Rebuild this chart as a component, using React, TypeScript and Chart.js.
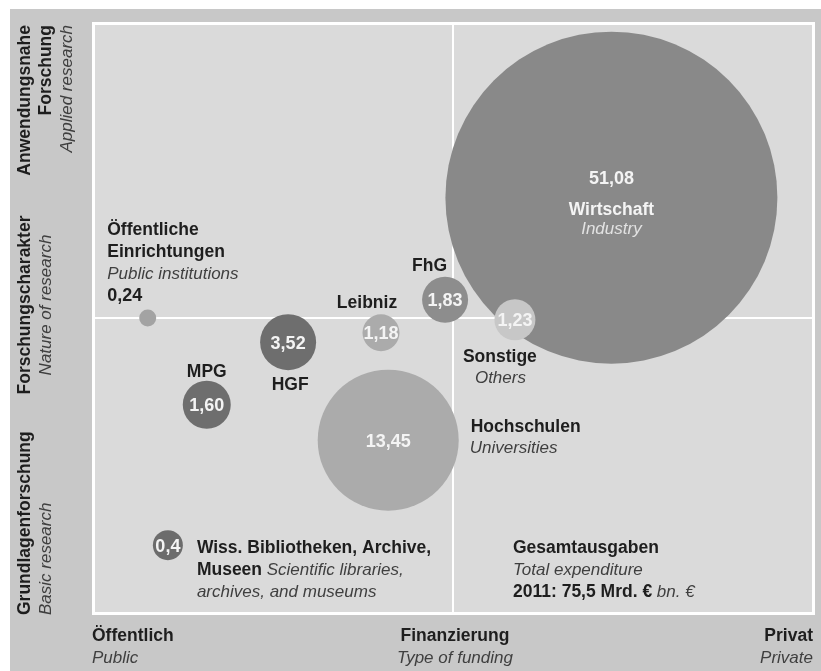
import React, { useEffect, useRef } from "react";
import { Chart, registerables } from "chart.js";

Chart.register(...registerables);

// ---------- DATA ----------
const names: string[] = [
  "Wirtschaft",
  "Hochschulen",
  "HGF",
  "MPG",
  "FhG",
  "Leibniz",
  "Sonstige",
  "Öffentliche Einrichtungen",
  "Wiss. Bibliotheken, Archive, Museen",
];
const valueLabels: string[] = ["51,08", "13,45", "3,52", "1,60", "1,83", "1,18", "1,23", "0,24", "0,4"];
// x: type of funding (0 = public, 100 = private)
const xFunding: number[] = [72.0, 41.0, 27.1, 15.8, 48.9, 40.0, 58.6, 7.6, 10.4];
// y: nature of research (0 = basic, 100 = applied)
const yNature: number[] = [70.4, 29.3, 45.9, 35.3, 53.1, 47.5, 49.7, 50.0, 11.5];
// bubble radius as drawn (px)
const bubbleR: number[] = [166, 70.5, 28, 24, 23, 18.5, 20.5, 8.5, 15];

const xAxisLabels = { left: ["Öffentlich", "Public"], mid: ["Finanzierung", "Type of funding"], right: ["Privat", "Private"] };
const yAxisLabels = {
  top: ["Anwendungsnahe", "Forschung", "Applied research"],
  mid: ["Forschungscharakter", "Nature of research"],
  bottom: ["Grundlagenforschung", "Basic research"],
};
const totalLines = ["Gesamtausgaben", "Total expenditure", "2011: 75,5 Mrd. €", " bn. €"];

// ---------- STYLES ----------
const bubbleColors = ["#898989", "#ababab", "#6e6e6e", "#6e6e6e", "#8d8d8d", "#ababab", "#c7c7c7", "#a3a3a3", "#6c6c6c"];
const OUTER_BG = "#c8c8c8";
const PANEL_BG = "#dadada";
const DARK = "#1e1e1e";
const GREYTXT = "#3f3f3f";
const FF = "'Liberation Sans', Arial, sans-serif";
const BOLD = `bold 17.5px ${FF}`;
const ITAL = `italic 17px ${FF}`;
const NUM = `bold 18px ${FF}`;

function txt(ctx: CanvasRenderingContext2D, s: string, x: number, y: number, font: string, color: string, align: CanvasTextAlign = "left") {
  ctx.font = font;
  ctx.fillStyle = color;
  ctx.textAlign = align;
  ctx.textBaseline = "alphabetic";
  ctx.fillText(s, x, y);
}
function vtxt(ctx: CanvasRenderingContext2D, s: string, x: number, y: number, font: string, color: string, align: CanvasTextAlign) {
  ctx.save();
  ctx.translate(x, y);
  ctx.rotate(-Math.PI / 2);
  txt(ctx, s, 0, 0, font, color, align);
  ctx.restore();
}

const decorPlugin = {
  id: "decor",
  beforeDraw(chart: any) {
    const { ctx, chartArea: a, width, height, scales } = chart;
    ctx.save();
    ctx.fillStyle = OUTER_BG;
    ctx.fillRect(0, 0, width, height);
    ctx.fillStyle = PANEL_BG;
    ctx.fillRect(a.left, a.top, a.right - a.left, a.bottom - a.top);
    const mx = scales.x.getPixelForValue(50);
    const my = scales.y.getPixelForValue(50);
    ctx.strokeStyle = "#ffffff";
    ctx.lineWidth = 2;
    ctx.beginPath();
    ctx.moveTo(mx, a.top);
    ctx.lineTo(mx, a.bottom);
    ctx.moveTo(a.left, my);
    ctx.lineTo(a.right, my);
    ctx.stroke();
    ctx.lineWidth = 3;
    ctx.strokeRect(a.left + 0.5, a.top + 0.5, a.right - a.left, a.bottom - a.top);
    ctx.restore();
  },
  afterDatasetsDraw(chart: any) {
    const { ctx, chartArea: a, scales } = chart;
    const pts = chart.getDatasetMeta(0).data;
    const P = (i: number) => ({ x: pts[i].x, y: pts[i].y });
    const mx = scales.x.getPixelForValue(50);
    const my = scales.y.getPixelForValue(50);
    ctx.save();

    // numbers inside bubbles
    [0, 1, 2, 3, 4, 5, 6, 8].forEach((i) => {
      const p = P(i);
      const dy = i === 0 ? -14 : 6.4;
      txt(ctx, valueLabels[i], p.x, p.y + dy, NUM, "#f4f4f4", "center");
    });
    // Wirtschaft
    let p = P(0);
    txt(ctx, names[0], p.x, p.y + 17, BOLD, "#f4f4f4", "center");
    txt(ctx, "Industry", p.x, p.y + 36.5, ITAL, "#e2e2e2", "center");
    // Hochschulen
    p = P(1);
    txt(ctx, names[1], p.x + 82.5, p.y - 8, BOLD, DARK);
    txt(ctx, "Universities", p.x + 81.5, p.y + 13, ITAL, GREYTXT);
    // HGF
    p = P(2);
    txt(ctx, names[2], p.x + 2, p.y + 48, BOLD, DARK, "center");
    // MPG
    p = P(3);
    txt(ctx, names[3], p.x, p.y - 28, BOLD, DARK, "center");
    // FhG
    p = P(4);
    txt(ctx, names[4], p.x - 15.5, p.y - 28.5, BOLD, DARK, "center");
    // Leibniz
    p = P(5);
    txt(ctx, names[5], p.x - 14, p.y - 25, BOLD, DARK, "center");
    // Sonstige
    p = P(6);
    txt(ctx, names[6], p.x - 52, p.y + 42.5, BOLD, DARK);
    txt(ctx, "Others", p.x - 40, p.y + 63.5, ITAL, GREYTXT);
    // Öffentliche Einrichtungen
    p = P(7);
    txt(ctx, "Öffentliche", p.x - 40.5, p.y - 83, BOLD, DARK);
    txt(ctx, "Einrichtungen", p.x - 40.5, p.y - 61, BOLD, DARK);
    txt(ctx, "Public institutions", p.x - 40.5, p.y - 39, ITAL, GREYTXT);
    txt(ctx, valueLabels[7], p.x - 40.5, p.y - 17, NUM, DARK);
    // Wiss. Bibliotheken
    p = P(8);
    const lx = p.x + 29;
    txt(ctx, "Wiss. Bibliotheken, Archive,", lx, p.y + 8, BOLD, DARK);
    txt(ctx, "Museen", lx, p.y + 30, BOLD, DARK);
    ctx.font = BOLD;
    const wm = ctx.measureText("Museen").width;
    txt(ctx, " Scientific libraries,", lx + wm, p.y + 30, ITAL, GREYTXT);
    txt(ctx, "archives, and museums", lx, p.y + 52, ITAL, GREYTXT);

    // Total expenditure
    const gx = mx + 60;
    txt(ctx, totalLines[0], gx, a.bottom - 60, BOLD, DARK);
    txt(ctx, totalLines[1], gx, a.bottom - 38, ITAL, GREYTXT);
    txt(ctx, totalLines[2], gx, a.bottom - 16, BOLD, DARK);
    ctx.font = BOLD;
    const wt = ctx.measureText(totalLines[2]).width;
    txt(ctx, totalLines[3], gx + wt, a.bottom - 16, ITAL, GREYTXT);

    // X axis labels
    txt(ctx, xAxisLabels.left[0], a.left - 1, a.bottom + 28, BOLD, DARK);
    txt(ctx, xAxisLabels.left[1], a.left - 1, a.bottom + 50, ITAL, GREYTXT);
    txt(ctx, xAxisLabels.mid[0], mx + 2, a.bottom + 28, BOLD, DARK, "center");
    txt(ctx, xAxisLabels.mid[1], mx + 2, a.bottom + 50, ITAL, GREYTXT, "center");
    txt(ctx, xAxisLabels.right[0], a.right, a.bottom + 28, BOLD, DARK, "right");
    txt(ctx, xAxisLabels.right[1], a.right, a.bottom + 50, ITAL, GREYTXT, "right");

    // Y axis labels (rotated)
    const b1 = a.left - 63;
    const b2 = a.left - 42;
    vtxt(ctx, yAxisLabels.top[0], b1, a.top + 2, BOLD, DARK, "right");
    vtxt(ctx, yAxisLabels.top[1], b1 + 21, a.top + 2, BOLD, DARK, "right");
    vtxt(ctx, yAxisLabels.top[2], b1 + 42, a.top + 2, ITAL, GREYTXT, "right");
    vtxt(ctx, yAxisLabels.mid[0], b1, my - 13, BOLD, DARK, "center");
    vtxt(ctx, yAxisLabels.mid[1], b2, my - 13, ITAL, GREYTXT, "center");
    vtxt(ctx, yAxisLabels.bottom[0], b1, a.bottom + 2, BOLD, DARK, "left");
    vtxt(ctx, yAxisLabels.bottom[1], b2, a.bottom + 2, ITAL, GREYTXT, "left");

    ctx.restore();
  },
};

export default function App() {
  const ref = useRef<HTMLCanvasElement | null>(null);
  useEffect(() => {
    if (!ref.current) return;
    const data = names.map((_, i) => ({ x: xFunding[i], y: yNature[i], r: bubbleR[i] }));
    const chart = new Chart(ref.current, {
      type: "bubble",
      data: {
        datasets: [
          {
            label: "FuE-Ausgaben",
            data,
            backgroundColor: bubbleColors,
            borderWidth: 0,
            hoverBorderWidth: 0,
            clip: false as any,
          },
        ],
      },
      options: {
        animation: false,
        responsive: false,
        events: [],
        layout: { autoPadding: false, padding: { left: 83, top: 14, right: 8, bottom: 58 } },
        scales: {
          x: { type: "linear", min: 0, max: 100, display: false },
          y: { type: "linear", min: 0, max: 100, display: false },
        },
        plugins: { legend: { display: false }, tooltip: { enabled: false }, title: { display: false } },
      },
      plugins: [decorPlugin],
    });
    return () => chart.destroy();
  }, []);
  return (
    <div style={{ position: "fixed", left: 10, top: 9, width: 811, height: 662 }}>
      <canvas ref={ref} width={811} height={662} style={{ width: 811, height: 662, display: "block" }} />
    </div>
  );
}
